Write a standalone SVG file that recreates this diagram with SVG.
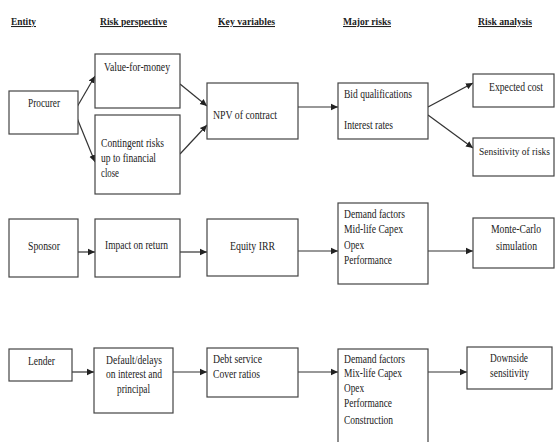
<svg xmlns="http://www.w3.org/2000/svg" width="555" height="442" viewBox="0 0 555 442">
<style>
text{font-family:"Liberation Serif","Times New Roman",serif;font-size:12px;fill:#222}
.h{font-weight:bold;font-size:10.5px;text-decoration:underline}
.b{fill:#fff;stroke:#444;stroke-width:1.2}
.c{stroke:#333;stroke-width:1.2;fill:none;marker-end:url(#ah)}
</style>
<defs>
<marker id="ah" markerWidth="8" markerHeight="8" refX="7" refY="4" orient="auto" markerUnits="userSpaceOnUse">
<path d="M0,0.8 L7,4 L0,7.2 Z" fill="#222"/>
</marker>
</defs>
<rect width="555" height="442" fill="#fff"/>
<g id="headers">
<text class="h" x="11" y="25" textLength="25" lengthAdjust="spacingAndGlyphs">Entity</text>
<text class="h" x="100" y="25" textLength="67" lengthAdjust="spacingAndGlyphs">Risk perspective</text>
<text class="h" x="218" y="25" textLength="57" lengthAdjust="spacingAndGlyphs">Key variables</text>
<text class="h" x="343" y="25" textLength="48" lengthAdjust="spacingAndGlyphs">Major risks</text>
<text class="h" x="478" y="25" textLength="54" lengthAdjust="spacingAndGlyphs">Risk analysis</text>
</g>
<g id="connectors">
<line class="c" x1="77" y1="107" x2="95" y2="76"/>
<line class="c" x1="77" y1="118" x2="95" y2="162"/>
<line class="c" x1="180" y1="84" x2="207" y2="106"/>
<line class="c" x1="180" y1="154" x2="207" y2="125"/>
<line class="c" x1="298" y1="107" x2="338" y2="107"/>
<line class="c" x1="428" y1="107" x2="473" y2="83"/>
<line class="c" x1="428" y1="115" x2="473" y2="148"/>
<line class="c" x1="78" y1="252" x2="95" y2="252"/>
<line class="c" x1="180" y1="252" x2="207" y2="252"/>
<line class="c" x1="298" y1="251" x2="338" y2="251"/>
<line class="c" x1="428" y1="251" x2="473" y2="251"/>
<line class="c" x1="72" y1="372" x2="94" y2="372"/>
<line class="c" x1="173" y1="372" x2="207" y2="372"/>
<line class="c" x1="298" y1="372" x2="338" y2="372"/>
<line class="c" x1="428" y1="372" x2="467" y2="372"/>
</g>
<g id="procurer"><rect class="b" x="9" y="91" width="69" height="43"/><text x="28" y="107" textLength="32" lengthAdjust="spacingAndGlyphs">Procurer</text></g>
<g id="value"><rect class="b" x="95" y="54" width="85" height="54"/><text x="104" y="71" textLength="66" lengthAdjust="spacingAndGlyphs">Value-for-money</text></g>
<g id="contingent"><rect class="b" x="95" y="115" width="85" height="79"/>
<text x="101" y="147" textLength="63" lengthAdjust="spacingAndGlyphs">Contingent risks</text>
<text x="101" y="162" textLength="55" lengthAdjust="spacingAndGlyphs">up to financial</text>
<text x="101" y="177" textLength="18" lengthAdjust="spacingAndGlyphs">close</text></g>
<g id="npv"><rect class="b" x="207" y="83" width="91" height="56"/><text x="213" y="119" textLength="64" lengthAdjust="spacingAndGlyphs">NPV of contract</text></g>
<g id="bid"><rect class="b" x="338" y="83" width="90" height="56"/>
<text x="344" y="98" textLength="68" lengthAdjust="spacingAndGlyphs">Bid qualifications</text>
<text x="344" y="129" textLength="49" lengthAdjust="spacingAndGlyphs">Interest rates</text></g>
<g id="expected"><rect class="b" x="473" y="74" width="81" height="33"/><text x="489" y="91" textLength="54" lengthAdjust="spacingAndGlyphs">Expected cost</text></g>
<g id="sensitivity"><rect class="b" x="473" y="138" width="81" height="38"/><text x="479" y="155" style="font-size:10px" textLength="71" lengthAdjust="spacingAndGlyphs">Sensitivity of risks</text></g>
<g id="sponsor"><rect class="b" x="9" y="219" width="69" height="58"/><text x="28" y="250" textLength="32" lengthAdjust="spacingAndGlyphs">Sponsor</text></g>
<g id="impact"><rect class="b" x="95" y="219" width="85" height="58"/><text x="105" y="249" textLength="63" lengthAdjust="spacingAndGlyphs">Impact on return</text></g>
<g id="equity"><rect class="b" x="207" y="219" width="91" height="57"/><text x="230" y="250" textLength="45" lengthAdjust="spacingAndGlyphs">Equity IRR</text></g>
<g id="demand1"><rect class="b" x="338" y="203" width="90" height="81"/>
<text x="344" y="218" textLength="61" lengthAdjust="spacingAndGlyphs">Demand factors</text>
<text x="344" y="233" textLength="59" lengthAdjust="spacingAndGlyphs">Mid-life Capex</text>
<text x="344" y="249" textLength="20" lengthAdjust="spacingAndGlyphs">Opex</text>
<text x="344" y="264" textLength="48" lengthAdjust="spacingAndGlyphs">Performance</text></g>
<g id="montecarlo"><rect class="b" x="473" y="218" width="81" height="50"/>
<text x="491" y="233" textLength="50" lengthAdjust="spacingAndGlyphs">Monte-Carlo</text>
<text x="496" y="250" textLength="41" lengthAdjust="spacingAndGlyphs">simulation</text></g>
<g id="lender"><rect class="b" x="9" y="349" width="63" height="32"/><text x="28" y="365" textLength="27" lengthAdjust="spacingAndGlyphs">Lender</text></g>
<g id="default"><rect class="b" x="94" y="348" width="79" height="65"/>
<text x="106" y="364" textLength="56" lengthAdjust="spacingAndGlyphs">Default/delays</text>
<text x="106" y="378" textLength="56" lengthAdjust="spacingAndGlyphs">on interest and</text>
<text x="117" y="393" textLength="33" lengthAdjust="spacingAndGlyphs">principal</text></g>
<g id="debt"><rect class="b" x="207" y="348" width="91" height="49"/>
<text x="213" y="363" textLength="49" lengthAdjust="spacingAndGlyphs">Debt service</text>
<text x="213" y="378" textLength="47" lengthAdjust="spacingAndGlyphs">Cover ratios</text></g>
<g id="demand2"><rect class="b" x="338" y="349" width="90" height="100"/>
<text x="344" y="363" textLength="61" lengthAdjust="spacingAndGlyphs">Demand factors</text>
<text x="344" y="377" textLength="58" lengthAdjust="spacingAndGlyphs">Mix-life Capex</text>
<text x="344" y="392" textLength="20" lengthAdjust="spacingAndGlyphs">Opex</text>
<text x="344" y="407" textLength="48" lengthAdjust="spacingAndGlyphs">Performance</text>
<text x="344" y="424" textLength="49" lengthAdjust="spacingAndGlyphs">Construction</text></g>
<g id="downside"><rect class="b" x="467" y="347" width="85" height="42"/>
<text x="490" y="362" textLength="38" lengthAdjust="spacingAndGlyphs">Downside</text>
<text x="490" y="377" textLength="39" lengthAdjust="spacingAndGlyphs">sensitivity</text></g>
</svg>
